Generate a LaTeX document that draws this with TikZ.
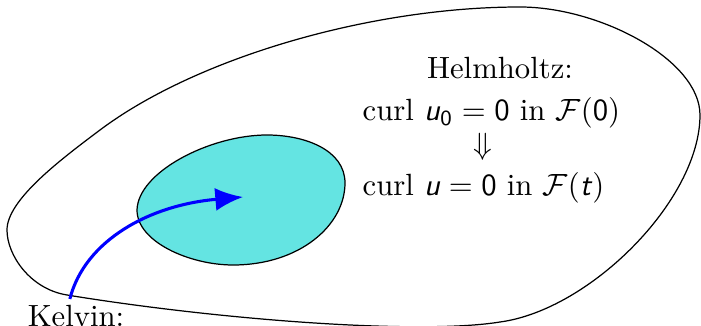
\documentclass[tikz,border=0pt]{standalone}
\usepackage{amsmath}
\usepackage{xcolor}
\usetikzlibrary{arrows.meta}
\definecolor{fluidcyan}{RGB}{100,228,226}
\newcommand{\sfvar}[1]{\textsf{\textit{#1}}}
\newcommand{\sfnum}[1]{\textsf{#1}}

\begin{document}
\begin{tikzpicture}[
    x=0.01145cm, y=-0.01145cm,
    label text/.style={inner sep=0pt, anchor=base west},
    kelvin arrow/.style={blue, line width=1pt, -{Latex[length=9pt, width=7.5pt]}}
]
    \useasboundingbox (0,0) rectangle (701,326);

    % Domains
    \draw (520,7) .. controls (600,7) and (700,60) .. (700,115)
        .. controls (700,200) and (590,310) .. (500,322)
        .. controls (420,335) and (220,320) .. (67,295)
        .. controls (30,289) and (7,255) .. (7,230)
        .. controls (7,200) and (60,160) .. (100,130)
        .. controls (196,58) and (370,7) .. cycle;
    \draw[fill=fluidcyan] (137,210) .. controls (138,172) and (210,135) .. (267,135)
        .. controls (305,135) and (345,150) .. (345,183)
        .. controls (345,225) and (300,265) .. (233,265)
        .. controls (190,265) and (137,242) .. cycle;

    % Nodes
    \node[inner sep=0pt, anchor=base] (Helm) at (500,79) {Helmholtz:};
    \node[label text] (Curl0) at (362,121)
        {curl $\sfvar{u}_{\sfnum{0}} = \sfnum{0}$ in $\mathcal{F}(\sfnum{0})$};
    \node[inner sep=0pt] (Impl) at (483,147) {$\Downarrow$};
    \node[label text] (CurlT) at (362,196)
        {curl $\sfvar{u} = \sfnum{0}$ in $\mathcal{F}(\sfvar{t})$};
    \node[inner sep=2pt, anchor=base west] (Kelvin) at (21,327) {Kelvin:};
    \coordinate (Tip) at (243,197);

    % Edges
    \draw[kelvin arrow] ([xshift=-2pt]Kelvin.north) .. controls (85,240) and (150,205) .. (Tip);
\end{tikzpicture}
\end{document}
